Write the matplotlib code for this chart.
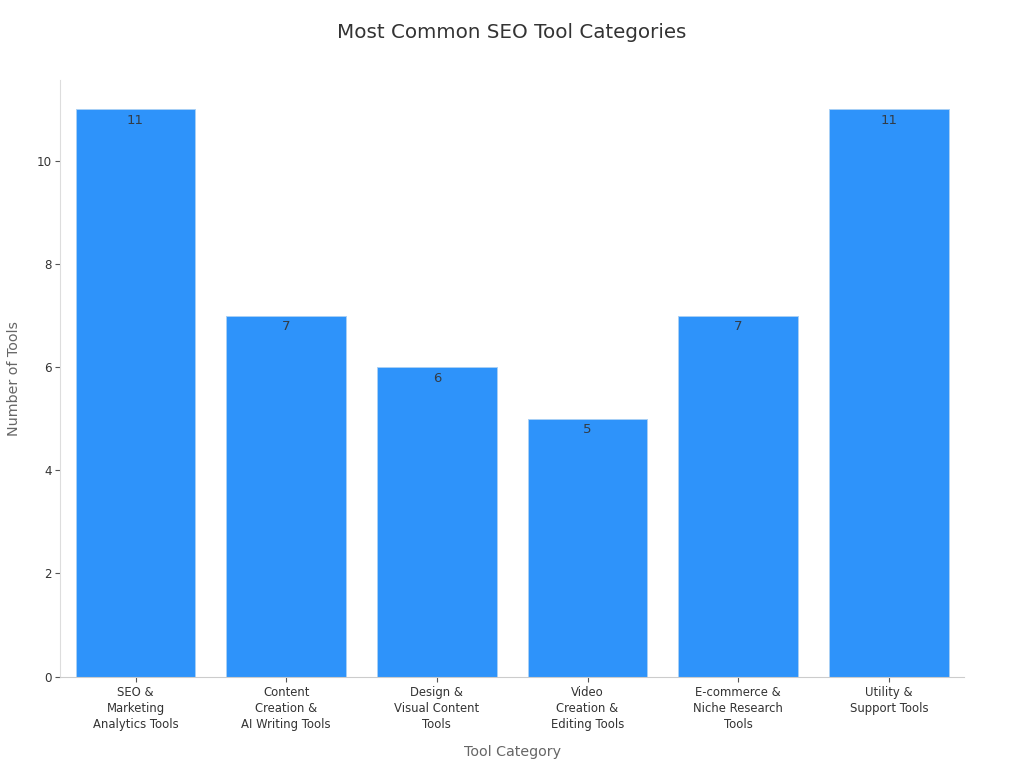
import matplotlib
matplotlib.use('Agg')
import matplotlib.pyplot as plt

categories = [
    'SEO &\nMarketing\nAnalytics Tools',
    'Content\nCreation &\nAI Writing Tools',
    'Design &\nVisual Content\nTools',
    'Video\nCreation &\nEditing Tools',
    'E-commerce &\nNiche Research\nTools',
    'Utility &\nSupport Tools',
]
counts = [11, 7, 6, 5, 7, 11]

fig, ax = plt.subplots(figsize=(10.24, 7.68), dpi=100)
fig.subplots_adjust(left=60.2 / 1024, right=964.2 / 1024, top=1 - 79.5 / 768, bottom=1 - 676.5 / 768)

bars = ax.bar(categories, counts, width=0.795, color='#2e93fa', edgecolor='#a8d0f5', linewidth=0.7)
ax.bar_label(bars, padding=-12.5, fontsize=9.5, color='#333333', alpha=0.9)

ax.set_xlim(-0.5, 5.5)
ax.set_ylim(0, 11.58)
ax.set_yticks([0, 2, 4, 6, 8, 10])
ax.tick_params(axis='both', labelsize=8.6, colors='#333333', length=3.6, color='#555555')
ax.tick_params(axis='y', pad=2.5)
ax.tick_params(axis='x', labelsize=8.4, pad=3.5)
for label in ax.get_xticklabels():
    label.set_linespacing(1.28)

ax.spines['top'].set_visible(False)
ax.spines['right'].set_visible(False)
ax.spines['left'].set_color('#dddddd')
ax.spines['bottom'].set_color('#cccccc')

ax.set_xlabel('Tool Category', fontsize=10.3, color='#666666', labelpad=10)
ax.set_ylabel('Number of Tools', fontsize=10.3, color='#666666', labelpad=11)
fig.suptitle('Most Common SEO Tool Categories', fontsize=14.3, color='#333333', x=0.5, y=1 - 33 / 768, va='center')

fig.savefig('out.png', dpi=100)
